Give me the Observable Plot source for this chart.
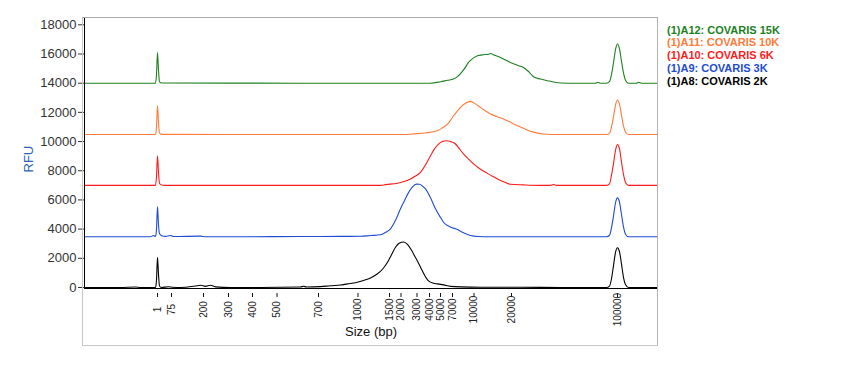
<!DOCTYPE html>
<html><head><meta charset="utf-8">
<script src="https://cdn.jsdelivr.net/npm/d3@7"></script>
<script src="https://cdn.jsdelivr.net/npm/@observablehq/plot@0.6"></script>
<style>
body{margin:0;background:#fff;font-family:"Liberation Sans",Arial,sans-serif;}
#wrap{position:relative;width:850px;height:372px;overflow:hidden;}
#chart{position:absolute;left:0;top:0;}
#box{position:absolute;left:82px;top:17px;width:574px;height:327px;border:1px solid #c8c8c8;border-top-color:#a8a8a8;border-right-color:#b4b4b4;pointer-events:none;}
#legend{position:absolute;left:667px;top:23.5px;font:bold 11px "Liberation Sans",Arial,sans-serif;line-height:12.8px;white-space:nowrap;}
</style></head><body>
<div id="wrap"><div id="chart"></div><div id="box"></div><div id="legend"></div></div>
<script>
// Size ladder: fragment sizes and their migration times (s)
const ladderSizes = ["1","75","200","300","400","500","700","1000","1500","2000","3000","4000","5000","7000","10000","20000","100000"];
const ladderTimes = [34.6,37.4,43.8,48.8,53.6,58.5,66.8,74.7,81.0,83.3,86.5,89.0,91.2,93.6,97.9,105.4,126.6];
const yTicks = [0,2000,4000,6000,8000,10000,12000,14000,16000,18000];

const seriesNames = ["(1)A12: COVARIS 15K","(1)A11: COVARIS 10K","(1)A10: COVARIS 6K","(1)A9: COVARIS 3K","(1)A8: COVARIS 2K"];
const seriesColors = ["#1e801e","#ff7b3a","#ff1a1a","#1e4bd2","#000000"];

// traces: [time (s), RFU]
const a8 = [[20,0],[27.2,0],[30.2,30],[31.2,0],[33.2,0],[34.2,0],[34.4,500],[34.6,2075],[34.8,900],[35.0,100],[35.4,0],[36.8,50],[37.6,20],[39.2,0],[42.2,100],[43.2,150],[44.2,80],[45.2,150],[46.2,40],[49.2,0],[55.2,0],[63.2,30],[63.8,90],[64.4,30],[67.2,60],[69.2,120],[71.2,170],[72.6,250],[74.2,330],[75.8,480],[77.2,650],[78.6,940],[79.6,1250],[80.6,1730],[81.4,2250],[82.2,2760],[83.0,3050],[83.8,3120],[84.6,2950],[85.4,2550],[86.2,2050],[87.2,1390],[88.0,850],[88.8,450],[89.8,290],[90.6,250],[91.8,180],[93.2,80],[95.2,40],[99.2,20],[107.2,20],[115.2,0],[123.2,0],[124.4,0],[125.0,100],[125.4,600],[125.8,1500],[126.2,2400],[126.6,2720],[127.0,2450],[127.4,1600],[127.8,700],[128.2,200],[128.8,0],[134.6,0]];
const a9 = [[20,3480],[27.2,3480],[33.2,3480],[33.8,3560],[34.2,3500],[34.4,4000],[34.6,5540],[34.8,4300],[35.0,3700],[35.4,3550],[36.2,3500],[37.2,3560],[37.8,3490],[43.2,3520],[44.2,3480],[53.2,3480],[63.2,3490],[71.2,3500],[75.2,3510],[77.2,3560],[79.2,3610],[80.2,3780],[81.2,4020],[82.2,4600],[83.2,5390],[84.0,5950],[84.8,6500],[85.6,6900],[86.4,7080],[87.0,7070],[87.6,6950],[88.2,6760],[89.2,6150],[90.2,5390],[91.2,4800],[91.8,4470],[93.2,4150],[94.6,3970],[95.8,3750],[97.2,3560],[98.8,3490],[99.8,3480],[123.2,3480],[124.4,3480],[125.0,3580],[125.4,4100],[125.8,4900],[126.2,5800],[126.6,6140],[127.0,5850],[127.4,5000],[127.8,4150],[128.2,3650],[128.8,3480],[134.6,3480]];
const a10 = [[20,7000],[33.2,7000],[34.2,7000],[34.4,7600],[34.6,9030],[34.8,7900],[35.0,7150],[35.4,7020],[36.2,7000],[63.2,7000],[79.2,7000],[80.2,7050],[82.6,7140],[84.2,7300],[85.2,7440],[86.2,7640],[87.2,7890],[88.2,8400],[89.2,9030],[90.0,9500],[90.8,9830],[91.6,10000],[92.4,10060],[93.2,10000],[94.2,9830],[95.0,9500],[95.8,9150],[96.8,8800],[97.8,8465],[99.2,8100],[100.6,7820],[101.6,7620],[102.6,7440],[103.8,7250],[105.2,7070],[107.8,7030],[111.2,7000],[113.2,7000],[113.8,7050],[114.4,7000],[123.2,7000],[124.4,7000],[125.0,7100],[125.4,7700],[125.8,8500],[126.2,9400],[126.6,9790],[127.0,9500],[127.4,8600],[127.8,7750],[128.2,7200],[128.8,7000],[134.6,7000]];
const a11 = [[20,10480],[33.2,10480],[34.2,10480],[34.4,11000],[34.6,12460],[34.8,11300],[35.0,10600],[35.4,10490],[63.2,10480],[84.2,10480],[85.6,10520],[88.2,10590],[90.6,10745],[91.6,10950],[92.6,11200],[93.2,11450],[93.8,11770],[94.6,12100],[95.2,12340],[96.2,12620],[97.2,12750],[98.2,12580],[99.2,12340],[100.2,12100],[101.2,11890],[102.4,11720],[103.8,11545],[105.2,11320],[106.6,11090],[108.0,10880],[109.2,10700],[110.6,10580],[111.8,10520],[114.6,10480],[124.4,10480],[125.0,10560],[125.4,11000],[125.8,11700],[126.2,12500],[126.6,12850],[127.0,12550],[127.4,11800],[127.8,11050],[128.2,10650],[128.8,10480],[134.6,10480]];
const a12 = [[20,14000],[33.2,14000],[34.2,14000],[34.4,14600],[34.6,16100],[34.8,14900],[35.0,14100],[35.4,14010],[63.2,14000],[89.2,14000],[91.2,14100],[92.6,14200],[93.8,14280],[94.6,14450],[95.2,14650],[96.0,15000],[96.8,15420],[97.6,15680],[98.6,15880],[99.8,15950],[100.8,15980],[101.2,16030],[102.0,15920],[103.2,15760],[104.4,15550],[105.8,15330],[106.8,15200],[107.8,15080],[108.8,14800],[109.8,14440],[111.2,14280],[112.6,14170],[113.8,14080],[115.2,14010],[117.2,14000],[122.2,14000],[122.6,14060],[123.2,14000],[124.4,14000],[125.0,14100],[125.4,14600],[125.8,15400],[126.2,16300],[126.6,16680],[127.0,16350],[127.4,15500],[127.8,14700],[128.2,14200],[128.8,14000],[130.4,14000],[130.8,14060],[131.4,14000],[134.6,14000]];
const traces = [a12, a11, a10, a9, a8];

const ladder = ladderSizes.map((s, i) => ({label: s, time: ladderTimes[i]}));

const chart = Plot.plot({
  width: 660, height: 350,
  marginLeft: 84, marginRight: 3, marginTop: 17, marginBottom: 63,
  style: {background: "transparent", fontFamily: "Liberation Sans, Arial, sans-serif"},
  x: {domain: [20, 134.6], axis: null},
  y: {domain: [0, 18500], axis: null},
  marks: [
    Plot.axisY({ticks: yTicks, tickSize: 6, tickPadding: 2, fontSize: 13, color: "#333", label: null, tickFormat: d => String(d)}),
    Plot.axisX({ticks: ladderTimes, tickSize: 4, dy: 6, tickFormat: () => "", label: null, color: "#111"}),
    Plot.text(ladder, {x: "time", text: "label", frameAnchor: "bottom", dy: 22, rotate: -90, textAnchor: "middle", lineAnchor: "middle", fontSize: 10, fill: "#222"}),
    Plot.text(["Size (bp)"], {text: d => d, frameAnchor: "bottom", dy: 48, fontSize: 13, fill: "#111"}),
    Plot.text(["RFU"], {text: d => d, frameAnchor: "left", dx: -56, dy: 20, rotate: -90, fontSize: 13, fill: "#2a64b0"}),
    ...traces.map((tr, i) => Plot.line(tr, {x: d => d[0], y: d => d[1], stroke: seriesColors[i], strokeWidth: 1.1, curve: "monotone-x"})),
    Plot.ruleX([20], {stroke: "#000"}),
    Plot.ruleY([0], {stroke: "#000", dy: 1})
  ]
});
document.getElementById("chart").appendChild(chart);

const legend = d3.select("#legend");
seriesNames.forEach((n, i) => legend.append("div").style("color", seriesColors[i]).text(n));
</script>
</body></html>
